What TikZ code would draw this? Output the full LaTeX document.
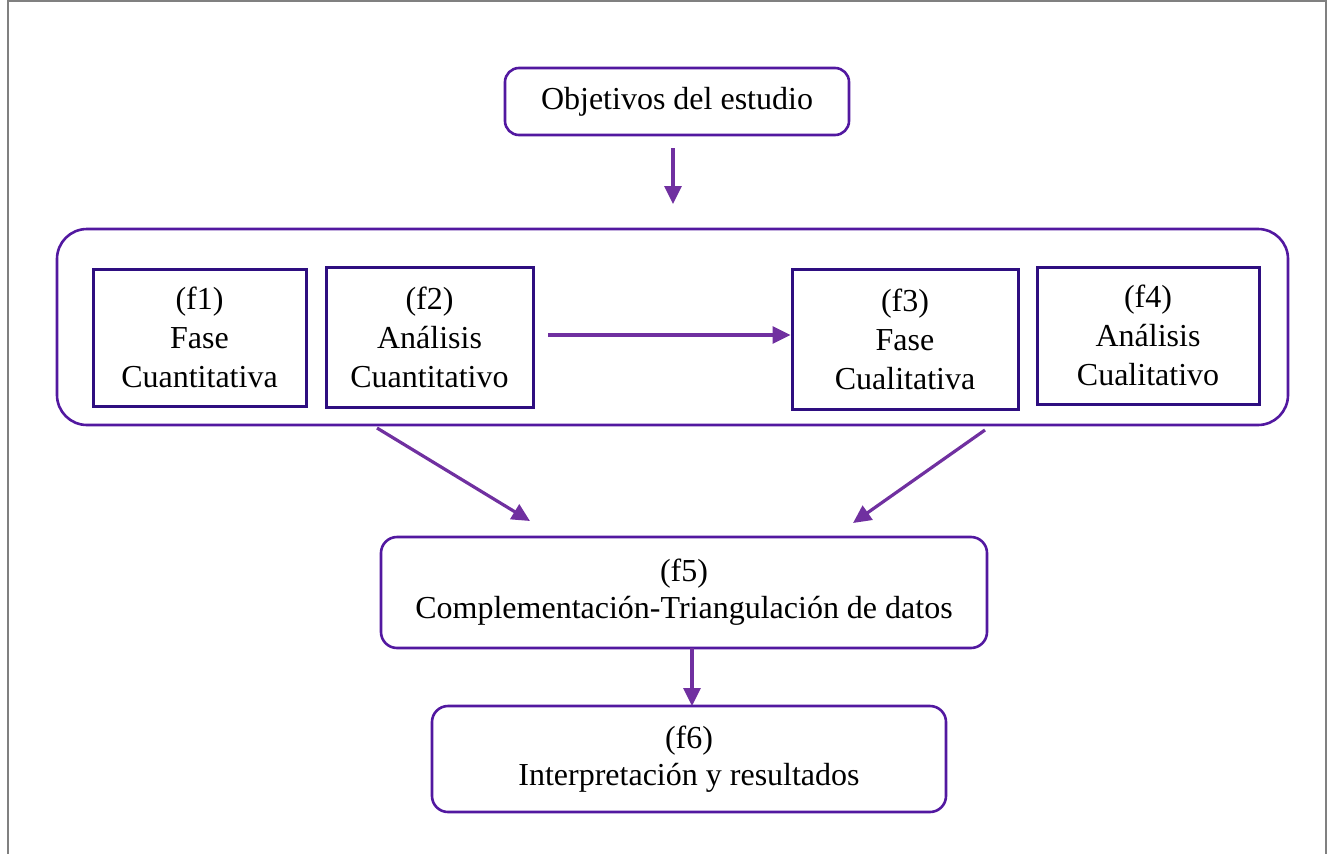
\documentclass[tikz,border=0pt]{standalone}
\usepackage{fontspec}
\setmainfont{Liberation Serif}
\usetikzlibrary{arrows.meta}
\definecolor{framegray}{HTML}{808080}
\definecolor{boxind}{HTML}{2E0E80}
\definecolor{roundpur}{HTML}{5218A0}
\definecolor{arrpur}{HTML}{7030A0}
\tikzset{
  sqbox/.style={draw=boxind, line width=3pt, align=center, inner sep=0pt, font=\fontsize{32}{39}\selectfont},
  rbox/.style={draw=roundpur, line width=2.6pt, rounded corners=14pt, align=center, inner sep=0pt, font=\fontsize{32}{37}\selectfont},
  conn/.style={draw=arrpur, line width=3.2pt, -{Triangle[length=18pt,width=17pt]}},
}
\begin{document}
\begin{tikzpicture}[x=1pt,y=-1pt]
\useasboundingbox (0,0) rectangle (1331,854);
\draw[framegray, line width=2pt] (8,870) -- (8,1) -- (1326,1) -- (1326,870);
% nodes
\node[rbox, minimum width=344pt, minimum height=67pt] (obj) at (677,101.5) {Objetivos del estudio};
\node[draw=roundpur, line width=2.6pt, rounded corners=30pt, minimum width=1231pt, minimum height=196pt, inner sep=0pt] (cont) at (672.5,327) {};
\node[sqbox, minimum width=213pt, minimum height=137pt] (f1) at (199.5,337.5) {(f1)\\Fase\\Cuantitativa};
\node[sqbox, minimum width=207pt, minimum height=140pt] (f2) at (429.5,337) {(f2)\\Análisis\\Cuantitativo};
\node[sqbox, minimum width=226pt, minimum height=140pt] (f3) at (905,339) {(f3)\\Fase\\Cualitativa};
\node[sqbox, minimum width=222pt, minimum height=137pt] (f4) at (1148,335.5) {(f4)\\Análisis\\Cualitativo};
\node[rbox, rounded corners=16pt, minimum width=606pt, minimum height=111pt] (f5) at (684,592.5) {(f5)\\Complementación-Triangulación de datos};
\node[rbox, rounded corners=16pt, minimum width=514pt, minimum height=106pt] (f6) at (689,759) {(f6)\\Interpretación y resultados};
% connector ends
\coordinate (a1s) at (673,148);
\coordinate (a1e) at (673,204);
\coordinate (a2s) at (548,335);
\coordinate (a2e) at (f3.west |- a2s);
\coordinate (a3s) at (377,428);
\coordinate (a3e) at (530,521);
\coordinate (a4s) at (985,430);
\coordinate (a4e) at (853,523);
\coordinate (a5s) at (692,648);
\coordinate (a5e) at (692,706);
% connectors
\draw[conn] (a1s) -- (a1e);
\draw[conn] (a2s) -- (a2e);
\draw[conn] (a3s) -- (a3e);
\draw[conn] (a4s) -- (a4e);
\draw[conn] (a5s) -- (a5e);
\end{tikzpicture}
\end{document}
